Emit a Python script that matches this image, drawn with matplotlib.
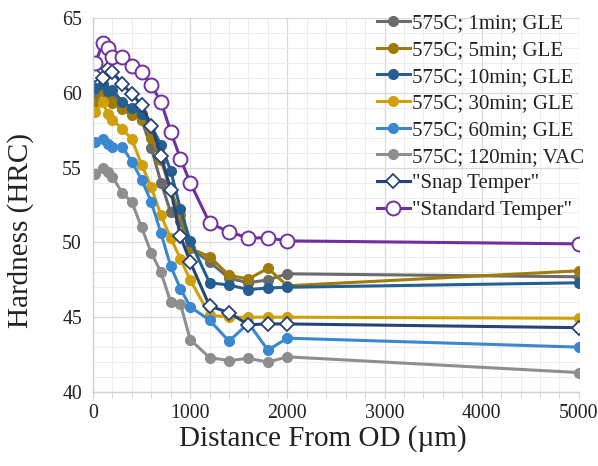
import matplotlib
matplotlib.use("Agg")
import matplotlib.pyplot as plt
from matplotlib.ticker import MultipleLocator

plt.rcParams["font.family"] = ["Liberation Serif", "DejaVu Serif"]

# distance from OD (um) for each indent
distance = [25, 100, 150, 200, 300, 400, 500, 600, 700, 800, 900, 1000,
            1200, 1400, 1600, 1800, 2000, 5000]

hrc_1min = [60.0, 60.3, 59.8, 59.6, 59.0, 58.7, 58.2, 56.3, 54.0, 52.0, 51.4, 49.6,
            48.7, 47.6, 47.3, 47.5, 47.9, 47.7]
hrc_5min = [59.3, 60.1, 59.9, 59.3, 58.9, 58.5, 58.2, 57.0, 55.5, 53.5, 51.8, 49.6,
            49.05, 47.8, 47.55, 48.27, 47.1, 48.1]
hrc_10min = [60.3, 60.6, 60.1, 60.2, 59.4, 59.0, 58.6, 57.8, 56.5, 54.8, 52.2, 50.1,
             47.3, 47.15, 46.85, 46.95, 47.0, 47.3]
hrc_30min = [58.7, 59.4, 58.6, 58.2, 57.6, 56.9, 55.2, 53.7, 51.8, 50.3, 48.9, 47.5,
             45.15, 45.0, 45.0, 45.0, 45.0, 44.93]
hrc_60min = [56.7, 56.9, 56.6, 56.4, 56.4, 55.4, 54.2, 52.7, 50.6, 48.4, 46.9, 45.7,
             44.8, 43.4, 44.6, 42.8, 43.6, 43.0]
hrc_120min = [54.6, 55.0, 54.7, 54.4, 53.3, 52.7, 51.0, 49.3, 48.0, 46.0, 45.9, 43.5,
              42.3, 42.1, 42.25, 42.0, 42.35, 41.3]
hrc_snap = [61.2, 61.0, 61.6, 61.4, 60.6, 59.9, 59.2, 57.8, 55.8, 53.5, 50.4, 48.7,
            45.75, 45.3, 44.5, 44.55, 44.55, 44.3]
hrc_standard = [62.0, 63.3, 63.0, 62.4, 62.4, 61.8, 61.4, 60.5, 59.4, 57.4, 55.6, 54.0,
                51.3, 50.7, 50.3, 50.3, 50.1, 49.9]

labels = ["575C; 1min; GLE", "575C; 5min; GLE", "575C; 10min; GLE",
          "575C; 30min; GLE", "575C; 60min; GLE", "575C; 120min; VAC",
          '"Snap Temper"', '"Standard Temper"']

fig = plt.figure(figsize=(5.98, 4.66), dpi=100)
ax = fig.add_axes([0.1555, 0.1588, 0.8125, 0.8026])

filled = [
    (hrc_1min, "#6B6B6B"),
    (hrc_5min, "#9E7B0B"),
    (hrc_10min, "#255E91"),
    (hrc_30min, "#D0A00A"),
    (hrc_60min, "#3A88CF"),
    (hrc_120min, "#8E8E8E"),
]
for (vals, col), lab in zip(filled, labels[:6]):
    ax.plot(distance, vals, color=col, lw=2.2, marker="o", ms=7,
            mfc=col, mec=col, label=lab)

ax.plot(distance, hrc_snap, color="#264478", lw=2.2, marker="D", ms=7.5,
        mfc="white", mec="#264478", mew=1.3, label=labels[6])
ax.plot(distance, hrc_standard, color="#7030A0", lw=2.2, marker="o", ms=10,
        mfc="white", mec="#7030A0", mew=1.4, label=labels[7])

ax.set_xlim(0, 5000)
ax.set_ylim(40, 65)
ax.xaxis.set_major_locator(MultipleLocator(1000))
ax.xaxis.set_minor_locator(MultipleLocator(200))
ax.yaxis.set_major_locator(MultipleLocator(5))
ax.yaxis.set_minor_locator(MultipleLocator(1))
ax.grid(which="major", color="#D9D9D9", lw=0.9)
ax.grid(which="minor", color="#EDEDED", lw=0.7)
ax.set_axisbelow(True)

for side in ["top", "right"]:
    ax.spines[side].set_visible(False)
for side in ["left", "bottom"]:
    ax.spines[side].set_color("#D0D0D0")
    ax.spines[side].set_linewidth(1.0)

ax.tick_params(axis="both", which="both", colors="#D0D0D0", labelcolor="#222222",
               labelsize=14.3)
ax.tick_params(axis="x", which="both", direction="out", length=4, pad=5)
ax.tick_params(axis="y", which="both", length=0, pad=8)

ax.set_xlabel("Distance From OD (\u00b5m)", fontsize=21, color="#222222")
ax.set_ylabel("Hardness (HRC)", fontsize=21, color="#222222")
ax.xaxis.set_label_coords(0.473, -0.088)
ax.yaxis.set_label_coords(-0.121, 0.433)

leg = ax.legend(loc="upper right", bbox_to_anchor=(1.011, 1.011), frameon=False,
                fontsize=15, handlelength=1.55, handletextpad=0.12,
                labelspacing=0.34, borderpad=0.0, borderaxespad=0.0)
for t in leg.get_texts():
    t.set_color("#222222")

fig.savefig("out.png", dpi=100, facecolor="white")
